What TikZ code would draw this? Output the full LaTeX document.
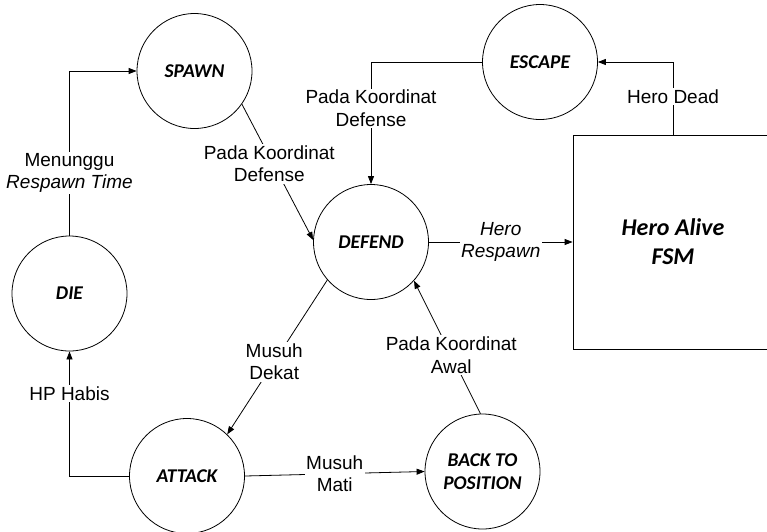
\documentclass[tikz,border=0pt]{standalone}
\usepackage{fontspec}
\setmainfont{Liberation Sans}
\newfontfamily\statefont{Carlito}
\usetikzlibrary{arrows.meta}

\begin{document}
\begin{tikzpicture}[x=1pt,y=-1pt,
  state/.style={circle,draw,line width=0.8pt,minimum size=115pt,inner sep=0pt,align=center,
    font=\statefont\bfseries\itshape\fontsize{19.5}{23}\selectfont},
  fsmbox/.style={rectangle,draw,line width=0.8pt,minimum width=200pt,minimum height=214pt,
    inner sep=0pt,align=center,font=\statefont\bfseries\itshape\fontsize{24}{29}\selectfont},
  lbl/.style={fill=white,inner sep=1.5pt,align=center,font=\fontsize{19}{22.5}\selectfont},
  arr/.style={line width=0.8pt,-{Triangle[length=8pt,width=6pt]}},
]
\useasboundingbox (0,0) rectangle (767,531);
\clip (0,0) rectangle (767,531);

% states
\node[state] (spawn)  at (194.5,71)   {SPAWN};
\node[state] (escape) at (540,62)     {ESCAPE};
\node[state] (defend) at (371,242)    {DEFEND};
\node[state] (die)    at (69.5,293.5) {DIE};
\node[state] (attack) at (187,476)    {ATTACK};
\node[state] (back)   at (482.5,471.5){BACK TO\\POSITION};
\node[fsmbox] (fsm)   at (673,242)    {Hero Alive\\FSM};

% transitions
\draw[arr] (die.north) |- node[lbl,pos=0.19] {Menunggu\\\textit{Respawn Time}} (spawn.west);
\draw[arr] (spawn.-35) -- node[lbl,pos=0.44,xshift=-4pt] {Pada Koordinat\\Defense} (defend.178);
\draw[arr] (escape.west) -| node[lbl,pos=0.69] {Pada Koordinat\\Defense} (defend.north);
\draw[arr] (fsm.north) |- node[lbl,pos=0.26] {Hero Dead} (escape.east);
\draw[arr] (defend.east) -- node[lbl,pos=0.5] {\textit{Hero}\\\textit{Respawn}} (fsm.west);
\draw[arr] (defend.221) -- node[lbl,pos=0.53] {Musuh\\Dekat} (attack.46);
\draw[arr] (back.92) -- node[lbl,pos=0.44] {Pada Koordinat\\Awal} (defend.-42);
\draw[arr] (attack.east) -- node[lbl,pos=0.5] {Musuh\\Mati} (back.west);
\draw[arr] (attack.west) -| node[lbl,pos=0.83] {HP Habis} (die.south);
\end{tikzpicture}
\end{document}
